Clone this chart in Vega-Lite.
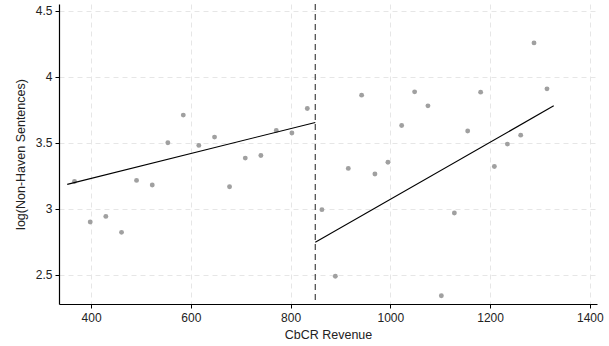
{
  "$schema": "https://vega.github.io/schema/vega-lite/v6.json",
  "width": 538,
  "height": 300,
  "autosize": {"type": "none"},
  "padding": {"left": 59, "top": 4, "right": 12, "bottom": 42},
  "background": "white",
  "config": {
    "view": {"stroke": null},
    "font": "Liberation Sans",
    "axis": {
      "labelFont": "Liberation Sans",
      "titleFont": "Liberation Sans",
      "labelFontSize": 12,
      "titleFontSize": 12.5,
      "titleFontWeight": "normal",
      "labelColor": "#222",
      "titleColor": "#222",
      "domainColor": "#000",
      "tickColor": "#000",
      "domainWidth": 1.2,
      "tickSize": 4,
      "gridColor": "#e6e6e6",
      "gridDash": [5, 4],
      "gridWidth": 1
    }
  },
  "datasets": {
    "pts": [
      {"rev": 366.7, "y": 3.208, "side": "L"},
      {"rev": 398.2, "y": 2.901, "side": "L"},
      {"rev": 429.5, "y": 2.943, "side": "L"},
      {"rev": 461.0, "y": 2.822, "side": "L"},
      {"rev": 491.1, "y": 3.216, "side": "L"},
      {"rev": 522.6, "y": 3.181, "side": "L"},
      {"rev": 553.9, "y": 3.501, "side": "L"},
      {"rev": 584.8, "y": 3.711, "side": "L"},
      {"rev": 616.0, "y": 3.481, "side": "L"},
      {"rev": 647.5, "y": 3.544, "side": "L"},
      {"rev": 677.6, "y": 3.168, "side": "L"},
      {"rev": 709.1, "y": 3.385, "side": "L"},
      {"rev": 740.4, "y": 3.405, "side": "L"},
      {"rev": 771.3, "y": 3.594, "side": "L"},
      {"rev": 802.6, "y": 3.575, "side": "L"},
      {"rev": 833.5, "y": 3.761, "side": "L"},
      {"rev": 862.8, "y": 2.994, "side": "R"},
      {"rev": 889.7, "y": 2.489, "side": "R"},
      {"rev": 915.7, "y": 3.307, "side": "R"},
      {"rev": 942.4, "y": 3.862, "side": "R"},
      {"rev": 969.1, "y": 3.264, "side": "R"},
      {"rev": 995.2, "y": 3.354, "side": "R"},
      {"rev": 1022.7, "y": 3.632, "side": "R"},
      {"rev": 1048.7, "y": 3.887, "side": "R"},
      {"rev": 1075.4, "y": 3.781, "side": "R"},
      {"rev": 1102.3, "y": 2.341, "side": "R"},
      {"rev": 1128.4, "y": 2.969, "side": "R"},
      {"rev": 1155.1, "y": 3.590, "side": "R"},
      {"rev": 1181.1, "y": 3.885, "side": "R"},
      {"rev": 1208.6, "y": 3.321, "side": "R"},
      {"rev": 1234.7, "y": 3.491, "side": "R"},
      {"rev": 1261.4, "y": 3.559, "side": "R"},
      {"rev": 1288.1, "y": 4.258, "side": "R"},
      {"rev": 1314.1, "y": 3.910, "side": "R"}
    ],
    "fit": [
      {"rev": 352.1, "y": 3.186, "side": "L"},
      {"rev": 849.5, "y": 3.655, "side": "L"},
      {"rev": 849.5, "y": 2.747, "side": "R"},
      {"rev": 1327.6, "y": 3.781, "side": "R"}
    ],
    "cut": [{"rev": 849.5}]
  },
  "layer": [
    {
      "data": {"name": "pts"},
      "mark": {"type": "circle", "size": 24, "color": "#a0a0a0", "opacity": 1},
      "encoding": {
        "x": {
          "field": "rev", "type": "quantitative",
          "scale": {"domain": [335.6, 1414.4], "nice": false, "zero": false},
          "axis": {"title": "CbCR Revenue", "values": [400, 600, 800, 1000, 1200, 1400], "format": "d", "labelPadding": 4, "titlePadding": 5, "grid": true}
        },
        "y": {
          "field": "y", "type": "quantitative",
          "scale": {"domain": [2.279, 4.553], "nice": false, "zero": false},
          "axis": {"title": "log(Non-Haven Sentences)", "values": [2.5, 3, 3.5, 4, 4.5], "format": "~g", "labelPadding": 3, "titlePadding": 8, "grid": true}
        }
      }
    },
    {
      "data": {"name": "fit"},
      "mark": {"type": "line", "color": "#000", "strokeWidth": 1.1},
      "encoding": {
        "x": {"field": "rev", "type": "quantitative"},
        "y": {"field": "y", "type": "quantitative"},
        "detail": {"field": "side"}
      }
    },
    {
      "data": {"name": "cut"},
      "mark": {"type": "rule", "color": "#444", "strokeDash": [6, 4], "strokeWidth": 1.2},
      "encoding": {
        "x": {"field": "rev", "type": "quantitative"}
      }
    }
  ]
}
